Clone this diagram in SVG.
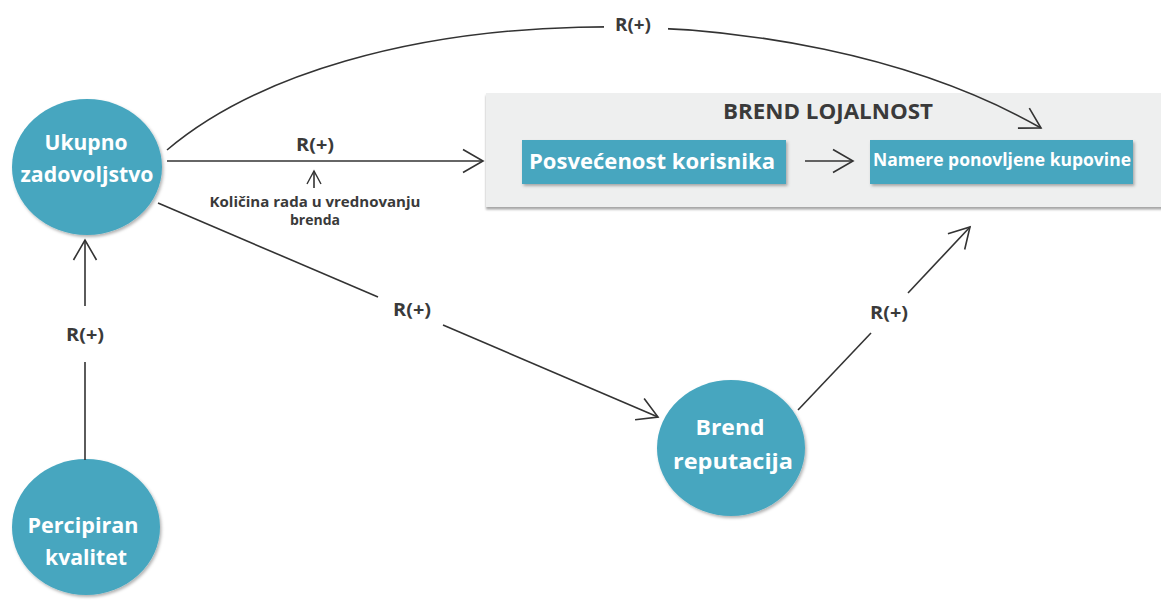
<svg xmlns="http://www.w3.org/2000/svg" width="1161" height="605" viewBox="0 0 1161 605">
<style>
.node{fill:#46A6BF;filter:url(#sh);}
.nt{font-family:"Open Sans","Liberation Sans",sans-serif;font-weight:bold;fill:#ffffff;text-anchor:middle;}
.lbl{font-family:"Open Sans","Liberation Sans",sans-serif;font-weight:bold;fill:#3a3a3a;text-anchor:middle;}
.ln{stroke:#333;stroke-width:1.6;fill:none;}
.arr{marker-end:url(#ah);}
</style>
<defs>
<filter id="sh" x="-20%" y="-20%" width="140%" height="140%">
<feDropShadow dx="1.5" dy="2" stdDeviation="1.8" flood-color="#000" flood-opacity="0.3"/>
</filter>
<filter id="gsh" x="-5%" y="-20%" width="110%" height="140%">
<feDropShadow dx="0" dy="2.5" stdDeviation="1.2" flood-color="#000" flood-opacity="0.35"/>
</filter>
<marker id="ah" markerUnits="userSpaceOnUse" markerWidth="30" markerHeight="30" viewBox="-25 -15 30 30" refX="0" refY="0" orient="auto">
<path d="M-20,-11.5 L0,0 L-20,11.5" fill="none" stroke="#333" stroke-width="1.6"/>
</marker>
<marker id="ahs" markerUnits="userSpaceOnUse" markerWidth="20" markerHeight="20" viewBox="-15 -10 20 20" refX="0" refY="0" orient="auto">
<path d="M-13,-7 L0,0 L-13,7" fill="none" stroke="#333" stroke-width="1.4"/>
</marker>
</defs>
<rect width="1161" height="605" fill="#ffffff"/>

<g id="brend-lojalnost">
<rect x="486" y="93" width="680" height="114" fill="#EEEFEF" filter="url(#gsh)"/>
<text class="lbl" x="828" y="119" font-size="22" textLength="210" lengthAdjust="spacingAndGlyphs" fill="#333">BREND LOJALNOST</text>
</g>

<g id="posvecenost">
<rect x="522" y="140" width="264" height="44" fill="#46A6BF" filter="url(#sh)"/>
<text class="nt" x="652" y="169" font-size="22" textLength="246" lengthAdjust="spacingAndGlyphs">Posvećenost korisnika</text>
</g>

<g id="namere">
<rect x="870" y="140" width="263" height="44" fill="#46A6BF" filter="url(#sh)"/>
<text class="nt" x="1002" y="166" font-size="17" textLength="258" lengthAdjust="spacingAndGlyphs">Namere ponovljene kupovine</text>
</g>

<g id="ukupno">
<ellipse class="node" cx="87" cy="167" rx="75" ry="68"/>
<text class="nt" x="86" y="150" font-size="22" textLength="83" lengthAdjust="spacingAndGlyphs">Ukupno</text>
<text class="nt" x="87" y="182" font-size="22" textLength="133" lengthAdjust="spacingAndGlyphs">zadovoljstvo</text>
</g>

<g id="percipiran">
<ellipse class="node" cx="86" cy="527" rx="74" ry="68"/>
<text class="nt" x="83" y="533" font-size="22" textLength="111" lengthAdjust="spacingAndGlyphs">Percipiran</text>
<text class="nt" x="86" y="565" font-size="22" textLength="82" lengthAdjust="spacingAndGlyphs">kvalitet</text>
</g>

<g id="brend-reputacija">
<ellipse class="node" cx="731" cy="448" rx="74" ry="68"/>
<text class="nt" x="730" y="435" font-size="22" textLength="69" lengthAdjust="spacingAndGlyphs">Brend</text>
<text class="nt" x="733" y="469" font-size="22" textLength="120" lengthAdjust="spacingAndGlyphs">reputacija</text>
</g>

<g id="connectors">
<path class="ln arr" d="M167,150 C350,-5 790,-15 1041,128"/>
<rect x="604" y="10" width="64" height="28" fill="#ffffff"/>
<text class="lbl" x="633" y="31" font-size="17" textLength="36" lengthAdjust="spacingAndGlyphs">R(+)</text>

<line class="ln arr" x1="167" y1="161" x2="483" y2="161"/>
<text class="lbl" x="315" y="151" font-size="17" textLength="38" lengthAdjust="spacingAndGlyphs">R(+)</text>
<line class="ln" x1="314" y1="188" x2="314" y2="171" marker-end="url(#ahs)"/>
<text class="lbl" x="315" y="207" font-size="14" textLength="211" lengthAdjust="spacingAndGlyphs">Količina rada u vrednovanju</text>
<text class="lbl" x="315" y="225" font-size="14" textLength="50" lengthAdjust="spacingAndGlyphs">brenda</text>

<line class="ln" x1="85" y1="460" x2="85" y2="362"/>
<line class="ln arr" x1="85" y1="306" x2="85" y2="240"/>
<text class="lbl" x="85" y="341" font-size="17" textLength="38" lengthAdjust="spacingAndGlyphs">R(+)</text>

<line class="ln" x1="158" y1="203" x2="378" y2="297"/>
<line class="ln arr" x1="443" y1="325" x2="658" y2="417"/>
<text class="lbl" x="412" y="316" font-size="17" textLength="38" lengthAdjust="spacingAndGlyphs">R(+)</text>

<line class="ln" x1="798" y1="410" x2="871" y2="333"/>
<line class="ln arr" x1="908" y1="293" x2="970" y2="227"/>
<text class="lbl" x="889" y="319" font-size="17" textLength="38" lengthAdjust="spacingAndGlyphs">R(+)</text>

<line class="ln arr" x1="805" y1="161" x2="853" y2="161"/>
</g>
</svg>
